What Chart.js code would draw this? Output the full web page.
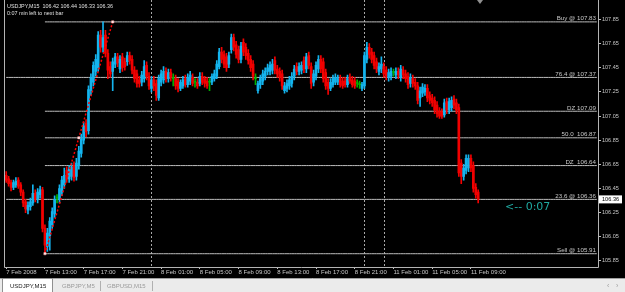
<!DOCTYPE html>
<html><head><meta charset="utf-8">
<script src="https://cdn.jsdelivr.net/npm/chart.js@4.4.1/dist/chart.umd.min.js"></script>
<style>html,body{margin:0;padding:0;background:#000;overflow:hidden}#wrap{position:relative;width:625px;height:292px}</style>
</head><body><div id="wrap"><canvas id="c" width="625" height="292"></canvas></div>
<script>
// ---- data (USDJPY M15, bar 0 = 7 Feb 2008 09:00) ----
const opens = [
106.56,106.53,106.50,106.46,106.48,106.52,106.48,106.42,106.34,106.27,
106.30,106.33,106.41,106.36,106.40,106.44,106.12,105.97,106.06,106.15,
106.24,106.37,106.36,106.42,106.48,106.60,106.53,106.55,106.64,106.55,
106.64,106.74,106.85,106.99,106.93,107.26,107.33,107.42,107.45,107.72,
107.62,107.72,107.57,107.46,107.42,107.48,107.54,107.44,107.54,107.50,
107.50,107.55,107.52,107.43,107.40,107.35,107.33,107.36,107.47,107.38,
107.28,107.35,107.32,107.20,107.33,107.35,107.42,107.36,107.41,107.36,
107.36,107.34,107.28,107.30,107.36,107.31,107.34,107.37,107.33,107.33,
107.32,107.38,107.36,107.34,107.33,107.33,107.36,107.38,107.46,107.58,
107.56,107.54,107.48,107.60,107.70,107.64,107.60,107.52,107.66,107.62,
107.57,107.52,107.48,107.36,107.26,107.31,107.34,107.38,107.42,107.42,
107.43,107.51,107.44,107.42,107.40,107.26,107.28,107.30,107.32,107.38,
107.46,107.42,107.43,107.51,107.44,107.55,107.46,107.33,107.38,107.44,
107.52,107.50,107.41,107.33,107.28,107.31,107.33,107.33,107.36,107.34,
107.34,107.31,107.37,107.35,107.34,107.32,107.31,107.28,107.30,107.52,
107.62,107.58,107.55,107.50,107.42,107.44,107.46,107.43,107.37,107.38,
107.41,107.39,107.42,107.37,107.43,107.40,107.38,107.32,107.36,107.33,
107.30,107.20,107.24,107.25,107.28,107.22,107.20,107.18,107.14,107.09,
107.08,107.06,107.17,107.10,107.12,107.19,107.16,107.12,106.66,106.55,
106.60,106.62,106.70,106.64,106.46,106.42];
const highs = [
106.59,106.55,106.52,106.52,106.54,106.54,106.50,106.44,106.36,106.34,
106.37,106.48,106.44,106.45,106.47,106.46,106.15,106.12,106.21,106.29,
106.39,106.40,106.48,106.55,106.62,106.63,106.64,106.66,106.67,106.70,
106.80,106.90,107.00,107.02,107.30,107.40,107.50,107.56,107.75,107.76,
107.83,107.76,107.60,107.50,107.53,107.57,107.57,107.55,107.57,107.53,
107.58,107.58,107.55,107.46,107.43,107.38,107.42,107.51,107.50,107.41,
107.38,107.38,107.35,107.39,107.43,107.46,107.45,107.44,107.44,107.40,
107.39,107.36,107.35,107.38,107.39,107.40,107.42,107.40,107.36,107.36,
107.41,107.41,107.38,107.37,107.36,107.40,107.43,107.51,107.61,107.62,
107.59,107.57,107.58,107.73,107.73,107.67,107.63,107.66,107.69,107.65,
107.60,107.55,107.51,107.40,107.34,107.39,107.43,107.45,107.48,107.50,
107.52,107.54,107.47,107.45,107.43,107.33,107.35,107.38,107.41,107.47,
107.49,107.49,107.50,107.54,107.57,107.58,107.49,107.43,107.50,107.55,
107.55,107.53,107.44,107.36,107.36,107.39,107.40,107.39,107.39,107.37,
107.37,107.39,107.40,107.38,107.37,107.35,107.34,107.33,107.58,107.66,
107.65,107.61,107.58,107.53,107.49,107.54,107.49,107.46,107.44,107.45,
107.44,107.45,107.45,107.47,107.46,107.43,107.41,107.40,107.39,107.36,
107.33,107.29,107.32,107.31,107.31,107.25,107.23,107.21,107.17,107.12,
107.11,107.19,107.20,107.20,107.21,107.22,107.19,107.15,106.69,106.65,
106.73,106.73,106.73,106.67,106.49,106.44];
const lows = [
106.50,106.47,106.43,106.44,106.46,106.45,106.39,106.30,106.25,106.24,
106.27,106.31,106.34,106.33,106.37,106.09,105.91,105.93,105.94,106.12,
106.21,106.33,106.33,106.39,106.45,106.50,106.50,106.52,106.51,106.52,
106.61,106.71,106.82,106.88,106.90,107.22,107.30,107.38,107.42,107.58,
107.58,107.54,107.36,107.37,107.26,107.45,107.46,107.41,107.42,107.43,
107.47,107.48,107.40,107.33,107.29,107.29,107.30,107.33,107.35,107.27,
107.25,107.26,107.18,107.18,107.30,107.32,107.33,107.33,107.34,107.30,
107.27,107.25,107.26,107.28,107.29,107.29,107.31,107.30,107.29,107.28,
107.30,107.31,107.29,107.28,107.26,107.31,107.34,107.36,107.44,107.49,
107.45,107.42,107.45,107.57,107.59,107.53,107.49,107.49,107.55,107.52,
107.48,107.42,107.35,107.31,107.24,107.28,107.31,107.35,107.39,107.39,
107.40,107.40,107.37,107.34,107.27,107.24,107.25,107.27,107.29,107.35,
107.39,107.39,107.40,107.41,107.41,107.44,107.28,107.30,107.35,107.41,
107.41,107.33,107.27,107.23,107.26,107.29,107.31,107.31,107.29,107.28,
107.29,107.29,107.32,107.29,107.28,107.29,107.28,107.26,107.28,107.49,
107.53,107.49,107.44,107.41,107.39,107.41,107.37,107.35,107.34,107.35,
107.38,107.36,107.36,107.34,107.36,107.33,107.28,107.29,107.29,107.27,
107.15,107.13,107.21,107.22,107.17,107.15,107.13,107.07,107.04,107.03,
107.03,107.04,107.07,107.07,107.09,107.11,107.07,106.55,106.49,106.52,
106.57,106.59,106.59,106.42,106.37,106.33];
const closes = [
106.52,106.49,106.46,106.50,106.51,106.47,106.42,106.33,106.28,106.31,
106.34,106.41,106.36,106.42,106.44,106.12,105.98,106.08,106.18,106.26,
106.36,106.37,106.45,106.52,106.56,106.53,106.61,106.63,106.54,106.66,
106.76,106.86,106.97,106.92,107.27,107.37,107.47,107.52,107.72,107.62,
107.70,107.57,107.43,107.40,107.50,107.54,107.49,107.52,107.45,107.46,
107.55,107.51,107.43,107.36,107.32,107.32,107.39,107.46,107.38,107.30,
107.35,107.30,107.22,107.36,107.40,107.42,107.36,107.41,107.37,107.36,
107.30,107.28,107.33,107.35,107.31,107.37,107.39,107.32,107.33,107.30,
107.38,107.33,107.32,107.30,107.33,107.38,107.40,107.48,107.58,107.52,
107.48,107.45,107.55,107.70,107.62,107.56,107.52,107.63,107.58,107.55,
107.51,107.45,107.38,107.36,107.32,107.36,107.40,107.42,107.45,107.47,
107.48,107.43,107.40,107.37,107.30,107.30,107.32,107.35,107.38,107.44,
107.42,107.46,107.47,107.44,107.54,107.47,107.32,107.40,107.47,107.52,
107.44,107.36,107.30,107.28,107.33,107.36,107.37,107.36,107.31,107.30,
107.31,107.36,107.34,107.31,107.30,107.32,107.31,107.31,107.55,107.62,
107.56,107.52,107.47,107.44,107.46,107.48,107.40,107.38,107.41,107.42,
107.41,107.42,107.39,107.44,107.39,107.36,107.31,107.37,107.32,107.30,
107.18,107.26,107.29,107.28,107.20,107.18,107.16,107.10,107.07,107.05,
107.05,107.16,107.10,107.17,107.18,107.14,107.10,106.58,106.55,106.62,
106.70,106.70,106.62,106.45,106.40,106.36];
const xTickBars   = [0,16,32,48,64,80,96,112,128,144,160,176,192];
const xTickLabels = ['7 Feb 2008','7 Feb 13:00','7 Feb 17:00','7 Feb 21:00','8 Feb 01:00','8 Feb 05:00','8 Feb 09:00','8 Feb 13:00','8 Feb 17:00','8 Feb 21:00','11 Feb 01:00','11 Feb 05:00','11 Feb 09:00'];
const yTicks = [105.85,106.05,106.25,106.45,106.65,106.85,107.05,107.25,107.45,107.65,107.85];
const fibLevels = [107.83,107.37,107.09,106.87,106.64,106.36,105.91];
const fibLabels = ['Buy @ 107.83','76.4 @ 107.37','DZ 107.09','50.0  106.87','DZ  106.64','23.6 @ 106.36','Sell @ 105.91'];
const fibFullWidth = [false,true,false,false,false,true,false];
const fibStartBar = 16;
const trendBars = [16,30,44];
const trendPrices = [105.91,106.87,107.83];
const separatorBars = [60,148,156];
const totalSlots = 245;
const bidPrice = 106.36;
const headerLine1 = 'USDJPY,M15  106.42 106.44 106.33 106.36';
const headerLine2 = '0:07 min left to next bar';
const timerText = '<-- 0:07';
const tabs = ['USDJPY,M15','GBPJPY,M5','GBPUSD,M15'];

// ---- build ----
const BULL = '#14b4ee', BEAR = '#f20000', DOJI = '#00b000', GRID = '#bdbdbd', TXT = '#c8c8c8';
const FONT = 'Liberation Sans';
const labels = Array.from({length: totalSlots}, (_, i) => String(i));
const barColors = closes.map((c, i) => c > opens[i] ? BULL : (c < opens[i] ? BEAR : DOJI));
const wickData = highs.map((h, i) => [lows[i], h]);
const bodyData = opens.map((o, i) => [Math.min(o, closes[i]), Math.max(o, closes[i])]);
const tickMap = {};
xTickBars.forEach((b, k) => tickMap[b] = xTickLabels[k]);

const fibSets = fibLevels.map((lv, k) => ({
  type: 'line',
  data: labels.map((_, i) => i >= (fibFullWidth[k] ? 0 : fibStartBar) ? lv : null),
  borderColor: GRID, borderWidth: 1, pointRadius: 0, order: 10
}));
const trendSet = {
  type: 'line',
  data: labels.map((_, i) => { const k = trendBars.indexOf(i); return k >= 0 ? trendPrices[k] : null; }),
  spanGaps: true, showLine: true, borderColor: '#ff0000', borderWidth: 1.5, borderDash: [2, 2],
  pointStyle: 'rect', pointRadius: 1.6, pointBackgroundColor: '#ffffff', pointBorderColor: '#ff9090', pointBorderWidth: 0.5,
  order: 0
};

const deco = {
  id: 'deco',
  beforeDraw(chart) {
    const ctx = chart.ctx;
    ctx.save(); ctx.fillStyle = '#000'; ctx.fillRect(0, 0, chart.width, chart.height); ctx.restore();
  },
  beforeDatasetsDraw(chart) {
    const ctx = chart.ctx, a = chart.chartArea, xs = chart.scales.x;
    ctx.save();
    ctx.strokeStyle = '#a8a8a8'; ctx.lineWidth = 1; ctx.setLineDash([2, 2]);
    separatorBars.forEach(b => {
      const x = Math.round(xs.getPixelForValue(b)) + 0.5;
      ctx.beginPath(); ctx.moveTo(x, 0); ctx.lineTo(x, a.bottom); ctx.stroke();
    });
    ctx.restore();
  },
  afterDraw(chart) {
    const ctx = chart.ctx, a = chart.chartArea, ys = chart.scales.y;
    ctx.save();
    // frame
    ctx.strokeStyle = '#b4b4b4'; ctx.lineWidth = 1;
    ctx.beginPath();
    ctx.moveTo(4.5, 0); ctx.lineTo(4.5, a.bottom + 0.5);
    ctx.lineTo(a.right + 0.5, a.bottom + 0.5); ctx.lineTo(a.right + 0.5, 0);
    ctx.stroke();
    // header
    ctx.fillStyle = '#e0e0e0'; ctx.font = '5.4px "' + FONT + '"'; ctx.textBaseline = 'middle'; ctx.textAlign = 'left';
    ctx.fillText(headerLine1, 7, 7);
    ctx.fillText(headerLine2, 7, 14);
    // fib labels
    ctx.font = '6.2px "' + FONT + '"';
    ctx.fillStyle = TXT; ctx.textAlign = 'right'; ctx.textBaseline = 'alphabetic';
    fibLevels.forEach((lv, k) => {
      const y = ys.getPixelForValue(lv);
      ctx.fillText(fibLabels[k], a.right - 2, y - 1.5);
    });
    // bid box
    const by = ys.getPixelForValue(bidPrice);
    ctx.fillStyle = '#ffffff'; ctx.fillRect(a.right + 1, by - 4, 23, 8);
    ctx.fillStyle = '#000'; ctx.textAlign = 'left'; ctx.textBaseline = 'middle';
    ctx.font = '5.6px "' + FONT + '"';
    ctx.fillText(bidPrice.toFixed(2), a.right + 4, by + 0.5);
    // timer
    ctx.fillStyle = '#1fa8a0'; ctx.font = '11px "DejaVu Sans"'; ctx.textAlign = 'left';
    ctx.fillText(timerText, 505, 207);
    // shift marker
    ctx.fillStyle = '#909090';
    ctx.beginPath(); ctx.moveTo(477, 0); ctx.lineTo(483, 0); ctx.lineTo(480, 4); ctx.closePath(); ctx.fill();
    // tab bar
    ctx.fillStyle = '#ebebeb'; ctx.fillRect(0, 278, chart.width, 14);
    ctx.strokeStyle = '#a0a0a0'; ctx.beginPath(); ctx.moveTo(0, 278.5); ctx.lineTo(chart.width, 278.5); ctx.stroke();
    ctx.fillStyle = '#ffffff'; ctx.fillRect(2, 278, 51, 14);
    ctx.strokeStyle = '#909090'; ctx.strokeRect(2.5, 278.5, 50, 14);
    ctx.font = '6px "' + FONT + '"'; ctx.textBaseline = 'middle';
    ctx.fillStyle = '#202020'; ctx.fillText(tabs[0], 10, 286);
    ctx.fillStyle = '#9a9a9a'; ctx.fillText(tabs[1], 62, 286); ctx.fillText(tabs[2], 107, 286);
    ctx.strokeStyle = '#b0b0b0';
    [100.5, 152.5].forEach(x => { ctx.beginPath(); ctx.moveTo(x, 281); ctx.lineTo(x, 291); ctx.stroke(); });
    ctx.fillStyle = '#a0a0a0'; ctx.font = '7px "' + FONT + '"'; ctx.fillText('\u2039', 607, 286); ctx.fillText('\u203A', 616, 286);
    ctx.restore();
  }
};

new Chart(document.getElementById('c'), {
  type: 'bar',
  data: {
    labels,
    datasets: [
      ...fibSets,
      trendSet,
      { type: 'bar', data: wickData, backgroundColor: barColors, barThickness: 1, grouped: false, order: 3 },
      { type: 'bar', data: bodyData, backgroundColor: barColors, barThickness: 2, grouped: false, minBarLength: 1, order: 2 }
    ]
  },
  options: {
    responsive: false, animation: false, devicePixelRatio: 1,
    layout: { padding: { left: 5, top: 4, right: 0, bottom: 14 } },
    plugins: { legend: { display: false }, tooltip: { enabled: false } },
    scales: {
      x: {
        type: 'category', offset: true,
        grid: { display: true, drawOnChartArea: false, offset: false, tickLength: 2,
                color: 'rgba(0,0,0,0)',
                tickColor: c => (tickMap[c.index] !== undefined ? '#c0c0c0' : 'rgba(0,0,0,0)') },
        border: { display: false },
        ticks: { autoSkip: false, maxRotation: 0, minRotation: 0, align: 'start', padding: 0,
                 color: TXT, font: { family: FONT, size: 6 },
                 callback: (v, i) => (tickMap[i] !== undefined ? tickMap[i] : '') },
        afterFit: s => { s.height = 11; }
      },
      y: {
        position: 'right', min: 105.80, max: 107.974,
        afterBuildTicks: s => { s.ticks = yTicks.map(v => ({ value: v })); },
        grid: { drawOnChartArea: false, tickLength: 3, tickColor: '#c0c0c0' },
        border: { display: false },
        ticks: { padding: 1, color: TXT, font: { family: FONT, size: 5.5 }, callback: v => Number(v).toFixed(2) },
        afterFit: s => { s.width = 27; }
      }
    }
  },
  plugins: [deco]
});
</script></body></html>
